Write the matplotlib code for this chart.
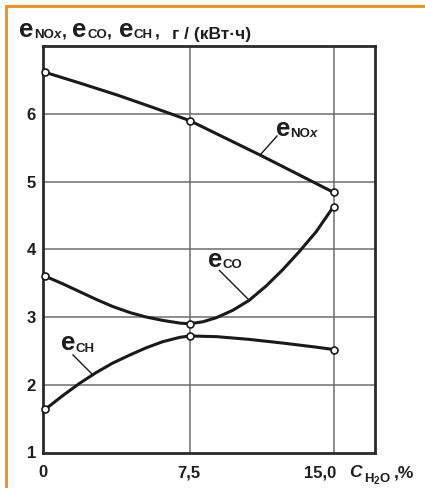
import matplotlib
matplotlib.use("Agg")
import matplotlib.pyplot as plt
from matplotlib.lines import Line2D
from matplotlib.patches import Rectangle

# ---------------- data ----------------
x_nox = [0, 1.875, 3.75, 5.625, 7.5, 9.375, 11.25, 13.125, 15]
y_nox = [6.61, 6.445, 6.275, 6.09, 5.90, 5.64, 5.38, 5.11, 4.84]

x_co = [0, 0.9, 1.77, 2.64, 3.5, 4.4, 5.24, 6.1, 7.0, 7.5, 8.2, 8.9, 9.76, 10.6,
        11.5, 12.36, 13.2, 14.1, 15]
y_co = [3.60, 3.49, 3.375, 3.26, 3.155, 3.065, 3.00, 2.95, 2.91, 2.90, 2.93, 2.99,
        3.10, 3.245, 3.46, 3.70, 3.96, 4.26, 4.63]

x_ch = [0, 0.9, 1.77, 2.64, 3.5, 4.4, 5.24, 6.1, 7.0, 7.5, 8.9, 10.6, 12.36, 14.1, 15]
y_ch = [1.64, 1.84, 2.02, 2.18, 2.32, 2.44, 2.545, 2.635, 2.70, 2.72, 2.71, 2.67,
        2.615, 2.555, 2.52]

# measured points (circles)
mx = [0, 7.5, 15]
m_nox = [6.61, 5.90, 4.84]
m_co = [3.60, 2.90, 4.63]
m_ch = [1.64, 2.72, 2.52]

x_ticks = [0, 7.5, 15]
x_tick_labels = ["0", "7,5", "15,0"]
y_ticks = [1, 2, 3, 4, 5, 6]
y_tick_labels = ["1", "2", "3", "4", "5", "6"]

# ---------------- style ----------------
W, H = 425, 488
FONT = "Liberation Sans"
TXT = "#1e1e1e"
LINE = "#1a1a1a"
GRID = "#6e6e6e"
ORANGE = "#F7901E"

plt.rcParams["font.family"] = [FONT, "DejaVu Sans"]

fig = plt.figure(figsize=(W / 100, H / 100), dpi=100)
fig.patch.set_facecolor("white")

# axes box in pixels
L, R, T, B = 43, 375, 46, 452.5
ax = fig.add_axes([L / W, 1 - B / H, (R - L) / W, (B - T) / H])
ax.set_xlim(-0.13, 17.16)
ax.set_ylim(1, 7)

for s in ax.spines.values():
    s.set_linewidth(2.0)
    s.set_color("#2a2a2a")

for yv in y_ticks[1:]:
    ax.axhline(yv, color=GRID, lw=1.1, zorder=1)
for xv in x_ticks[1:]:
    ax.axvline(xv, color=GRID, lw=1.1, zorder=1)

ax.set_xticks([])
ax.set_yticks(y_ticks)
ax.set_yticklabels(y_tick_labels, fontsize=12, fontweight="bold", color=TXT)
ax.tick_params(axis="y", length=0, pad=5)

# x tick labels (manual, to reproduce the nudges of the original)
x_nudge = [-3, -1, -13.5]
for xv, lab, dx in zip(x_ticks, x_tick_labels, x_nudge):
    ax.annotate(lab, xy=(xv, 0), xycoords=("data", "axes fraction"),
                xytext=(dx, -24.5), textcoords="offset pixels",
                ha="center", va="baseline", fontsize=12, fontweight="bold",
                color=TXT, annotation_clip=False)

# curves
lw = 2.2
ax.plot(x_nox, y_nox, color=LINE, lw=lw, zorder=3, solid_capstyle="round",
        solid_joinstyle="round")
ax.plot(x_co, y_co, color=LINE, lw=lw, zorder=3, solid_capstyle="round",
        solid_joinstyle="round")
ax.plot(x_ch, y_ch, color=LINE, lw=lw, zorder=3, solid_capstyle="round",
        solid_joinstyle="round")
for my in (m_nox, m_co, m_ch):
    ax.plot(mx, my, ls="none", marker="o", ms=5, mfc="white", mec=LINE,
            mew=1.2, zorder=4, clip_on=False)


def ftext(px, py, s, size, **kw):
    kw.setdefault("fontweight", "bold")
    kw.setdefault("color", TXT)
    fig.text(px / W, 1 - py / H, s, fontsize=size, va="baseline", ha="left",
             family=[FONT, "DejaVu Sans"], **kw)


def fline(p1, p2):
    fig.add_artist(Line2D([p1[0] / W, p2[0] / W], [1 - p1[1] / H, 1 - p2[1] / H],
                          transform=fig.transFigure, color=LINE, lw=1.0))


E = 18.5
SUB = 9.5

# title
ftext(19, 37, "e", E)
ftext(34, 37.5, "NO", SUB)
ftext(53.5, 37.5, "x", SUB, style="italic")
ftext(62, 37, ",", 12.5)
ftext(72, 37, "e", E)
ftext(87, 37.5, "CO", SUB)
ftext(107, 37, ",", 12.5)
ftext(119, 37, "e", E)
ftext(134, 37.5, "CH", SUB)
ftext(154.5, 37, ",", 12.5)
ftext(172, 39, "г / (кВт·ч)", 12.5)

# x axis title
ftext(349, 477, "C", 12.5, style="italic")
ftext(364, 481.5, "H", SUB)
ftext(374, 484, "2", 7)
ftext(379, 481.5, "O", SUB)
ftext(393.5, 477, ",%", 12.5)

# curve labels with leader lines
ftext(276, 136.5, "e", E)
ftext(290, 137, "NO", SUB)
ftext(309.5, 137, "x", SUB, style="italic")
fline((277, 136), (261, 154))

ftext(208, 267, "e", E)
ftext(222.5, 268.5, "CO", SUB)
fline((219.5, 270.5), (248, 299))

ftext(61.5, 350, "e", E)
ftext(75.5, 351.5, "CH", SUB)
fline((73, 355), (93, 375))

# orange frame (top and left edges)
fig.add_artist(Rectangle((5 / W, 1 - 7.5 / H), 1, 2.5 / H, transform=fig.transFigure,
                         color=ORANGE, lw=0))
fig.add_artist(Rectangle((5 / W, 0), 2.5 / W, 1 - 5 / H, transform=fig.transFigure,
                         color=ORANGE, lw=0))

fig.savefig("out.png", dpi=100, facecolor="white")
